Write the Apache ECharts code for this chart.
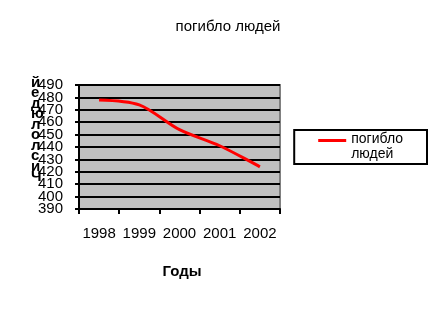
<!DOCTYPE html>
<html><head><meta charset="utf-8">
<script src="https://cdn.jsdelivr.net/npm/echarts@6/dist/echarts.min.js"></script>
<style>html,body{margin:0;padding:0;background:#fff}#c{width:431px;height:320px}</style>
</head><body><div id="c"></div>
<script>
const categories = ['1998', '1999', '2000', '2001', '2002'];
const deaths = [478, 474, 454, 441, 424];
const seriesName = 'погибло людей';
const chartTitle = 'погибло людей';
const xTitle = 'Годы';
const yTitle = 'Число людей';
const yMin = 390, yMax = 490, yStep = 10;

const FONT = '"Liberation Sans", Arial, sans-serif';
const chart = echarts.init(document.getElementById('c'), null, {renderer: 'canvas'});
const stacked = yTitle.split('').filter(c => c !== ' ').reverse().join('\n');
const labelBase = {fontFamily: FONT, fontSize: 15, color: '#000', margin: 16, hideOverlap: false};
// two overlaid label sets so that tightly packed tick labels are all kept
const isOddTen = v => Math.round(v / yStep) % 2 === 1;
chart.setOption({
  animation: false,
  backgroundColor: '#fff',
  title: {text: chartTitle, left: 223, top: 14, textAlign: 'center',
    textStyle: {fontFamily: FONT, fontSize: 15, fontWeight: 'normal', color: '#000'}},
  legend: {
    right: 4, top: 130, orient: 'vertical',
    borderColor: '#000', borderWidth: 2, borderRadius: 0,
    padding: [2, 24, 2, 24],
    itemWidth: 28, itemHeight: 16, itemGap: 0,
    icon: 'path://M0,0h28v3h-28z M0,16h0.01v0.01h-0.01z',
    formatter: () => 'погибло\nлюдей',
    textStyle: {fontFamily: FONT, fontSize: 14, color: '#000', lineHeight: 15}
  },
  grid: {left: 79, top: 85, width: 201, height: 124, show: true,
    backgroundColor: '#C0C0C0', borderColor: '#808080', borderWidth: 2},
  xAxis: {
    type: 'category', data: categories, boundaryGap: true,
    axisLine: {lineStyle: {color: '#000', width: 2}},
    axisTick: {show: true, length: 5, interval: 0, lineStyle: {color: '#000', width: 2}},
    axisLabel: {fontFamily: FONT, fontSize: 15, color: '#000', margin: 17, interval: 0, hideOverlap: false},
    name: xTitle, nameLocation: 'middle', nameGap: 55,
    nameTextStyle: {fontFamily: FONT, fontSize: 15, fontWeight: 'bold', color: '#000', padding: [0, 0, 0, 5]}
  },
  yAxis: [{
    type: 'value', min: yMin, max: yMax, interval: yStep,
    axisLine: {show: true, lineStyle: {color: '#000', width: 2}},
    axisTick: {show: true, length: 4, lineStyle: {color: '#000', width: 2}},
    axisLabel: Object.assign({}, labelBase, {showMinLabel: true, showMaxLabel: true,
      formatter: v => isOddTen(v) ? String(v) : ''}),
    splitLine: {show: true, lineStyle: {color: '#000', width: 2}}
  }, {
    type: 'value', min: yMin, max: yMax, interval: yStep, position: 'left',
    axisLine: {show: false}, axisTick: {show: false}, splitLine: {show: false},
    axisLabel: Object.assign({}, labelBase, {showMinLabel: false, showMaxLabel: false,
      formatter: v => isOddTen(v) ? '' : String(v)})
  }],
  graphic: [{
    type: 'text', left: 31, top: 75,
    style: {text: stacked, fontFamily: FONT, fontSize: 15, fontWeight: 'bold', fill: '#000', lineHeight: 10.5, align: 'center'}
  }],
  series: [{
    name: seriesName, type: 'line', data: deaths, smooth: 0.3,
    symbol: 'none', lineStyle: {color: '#FF0000', width: 3}, itemStyle: {color: '#FF0000'}
  }]
});
</script></body></html>
